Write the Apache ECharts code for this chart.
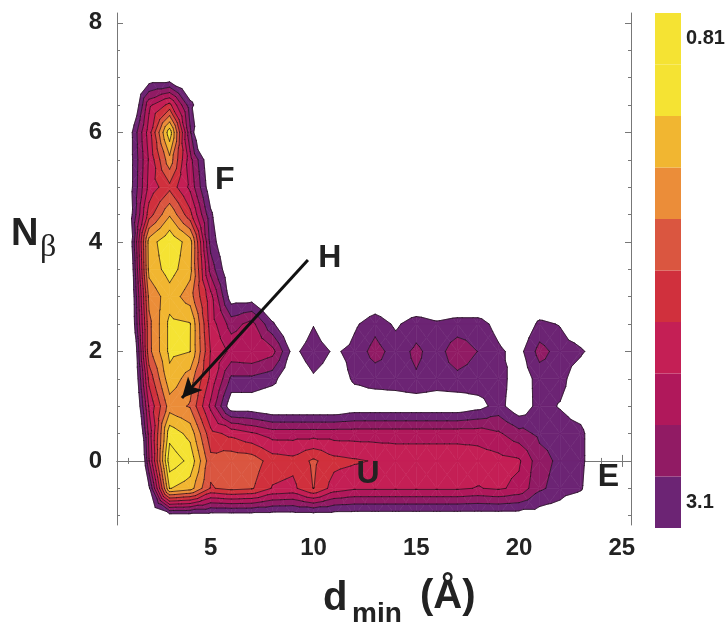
<!DOCTYPE html>
<html><head><meta charset="utf-8">
<script src="https://cdn.jsdelivr.net/npm/echarts@6/dist/echarts.min.js"></script>
<style>html,body{margin:0;padding:0;background:#fff}#c{width:728px;height:627px}</style>
</head><body><div id="c"></div>
<script>
// ---- grid of the surface (x: d_min in Å, y: N_beta) ----
const dminNodes = [1,2,3,4,5,6,7,8,9,10,11,12,13,14,15,16,17,18,19,20,21,22,23,24,25];
const nbetaNodes = [7,6.5,6,5.5,5,4.5,4,3.5,3,2.5,2,1.5,1,0.5,0,-0.5,-1];
// free-energy values, one row per N_beta node (white where > 3.1)
const F_y7    = [3.6,3.3,3.3,3.6,3.6,3.6,3.6,3.6,3.6,3.6,3.6,3.6,3.6,3.6,3.6,3.6,3.6,3.6,3.6,3.6,3.6,3.6,3.6,3.6,3.6];
const F_y6_5  = [3.8,2.4,2.0,3.0,3.6,3.6,3.6,3.6,3.6,3.6,3.6,3.6,3.6,3.6,3.6,3.6,3.6,3.6,3.6,3.6,3.6,3.6,3.6,3.6,3.6];
const F_y6    = [3.3,2.2,0.9,2.8,4.5,3.6,3.6,3.6,3.6,3.6,3.6,3.6,3.6,3.6,3.6,3.6,3.6,3.6,3.6,3.6,3.6,3.6,3.6,3.6,3.6];
const F_y5_5  = [3.3,2.3,1.4,2.5,3.4,3.6,3.6,3.6,3.6,3.6,3.6,3.6,3.6,3.6,3.6,3.6,3.6,3.6,3.6,3.6,3.6,3.6,3.6,3.6,3.6];
const F_y5    = [3.3,2.25,1.9,2.4,3.3,3.6,3.6,3.6,3.6,3.6,3.6,3.6,3.6,3.6,3.6,3.6,3.6,3.6,3.6,3.6,3.6,3.6,3.6,3.6,3.6];
const F_y4_5  = [3.35,1.95,1.35,2.0,3.05,3.6,3.6,3.6,3.6,3.6,3.6,3.6,3.6,3.6,3.6,3.6,3.6,3.6,3.6,3.6,3.6,3.6,3.6,3.6,3.6];
const F_y4    = [3.49,1.2,0.85,1.2,2.95,3.5,3.6,3.6,3.6,3.6,3.6,3.6,3.6,3.6,3.6,3.6,3.6,3.6,3.6,3.6,3.6,3.6,3.6,3.6,3.6];
const F_y3_5  = [3.63,1.235,0.95,1.235,2.7,3.4,3.6,3.6,3.6,3.6,3.6,3.6,3.6,3.6,3.6,3.6,3.6,3.6,3.6,3.6,3.6,3.6,3.6,3.6,3.6];
const F_y3    = [3.69,1.5,1.18,1.45,2.25,3.25,3.25,3.6,3.6,3.5,3.5,3.5,3.4,3.5,3.5,3.5,3.5,3.5,3.5,3.5,3.5,3.5,3.6,3.6,3.6];
const F_y2_5  = [3.7,1.64,1.0,1.05,2.2,2.7,2.5,3.05,3.5,3.12,3.5,3.15,2.93,3.15,2.95,3.05,2.98,2.98,3.2,3.4,3.03,3.12,3.4,3.6,3.6];
const F_y2    = [4.07,1.65,1.0,1.06,2.1,2.4,2.35,2.5,3.2,2.9,3.15,3.0,2.75,2.95,2.8,2.95,2.7,2.85,3.05,3.2,2.75,2.95,3.05,3.3,3.6];
const F_y1_5  = [4.04,2.0,1.15,1.45,2.15,2.9,2.9,3.0,3.4,3.15,3.3,3.05,2.98,2.95,2.87,2.95,2.91,2.95,2.95,3.3,2.99,3.0,3.3,3.6,3.6];
const F_y1    = [4.1,2.3,1.45,1.6,2.4,3.3,3.3,3.4,3.4,3.4,3.4,3.3,3.3,3.3,3.3,3.3,3.3,3.2,3.0,3.3,3.0,3.12,3.3,3.6,3.6];
const F_y0_5  = [4.5,2.5,0.9,1.15,2.0,2.15,2.3,2.45,2.45,2.45,2.45,2.45,2.45,2.45,2.45,2.45,2.45,2.45,2.55,2.75,2.9,2.95,3.0,3.5,3.6];
const F_y0    = [5.1,2.6,0.65,0.88,1.75,1.65,1.68,1.95,2.0,1.78,2.0,2.05,2.1,2.15,2.15,2.15,2.15,2.2,2.25,2.3,2.75,2.9,3.0,3.5,3.6];
const F_ym0_5 = [5.0,3.15,1.05,1.2,1.85,1.75,1.8,2.1,2.15,1.82,2.2,2.3,2.3,2.3,2.3,2.3,2.3,2.35,2.3,2.4,2.8,2.95,3.05,3.6,3.6];
const F_ym1   = [5.0,3.6,3.25,3.25,3.25,3.25,3.25,3.25,3.25,3.25,3.25,3.25,3.25,3.25,3.25,3.25,3.25,3.25,3.25,3.25,3.25,3.3,3.6,3.6,3.6];
const surface = [F_y7,F_y6_5,F_y6,F_y5_5,F_y5,F_y4_5,F_y4,F_y3_5,F_y3,F_y2_5,F_y2,F_y1_5,F_y1,F_y0_5,F_y0,F_ym0_5,F_ym1];

// contour levels and band colours (lowest F first)
const levels = [0.81,1.064,1.319,1.573,1.828,2.082,2.337,2.591,2.846,3.1];
const bandColors = ['#f5e333','#f5e333','#f1b631','#eb8d39','#da5640','#d0303d','#c41f55','#b0185b','#911b64','#6c2474'];
// colour bar (bottom to top) and its labels
const colorbarColors = bandColors.slice().reverse();
const colorbarUnits = [1,1,1,1,1,1,1,1,1,1];
const colorbarLabelPos = [0.5, 9.5];
const colorbarLabels = ['3.1','0.81'];

// axes
const dminTicks = [5,10,15,20,25];
const dminMinor = [1,2,3,4,6,7,8,9,11,12,13,14,16,17,18,19,21,22,23,24];
const nbetaTicks = [0,2,4,6,8];
const nbetaMinor = [-1,-0.5,0.5,1,1.5,2.5,3,3.5,4.5,5,5.5,6.5,7,7.5];

// annotations
const annText = ['F','H','U','E'];
const annX = [5.69,10.8,12.65,24.35];
const annY = [5.12,3.7,-0.25,-0.3];
const arrowFrom = [9.73,3.67];
const arrowTo = [3.6,1.15];

const FONT = '"Liberation Sans", Arial, Helvetica, sans-serif';
const TXT = '#222';

const cells = [];
for (let j = 0; j < nbetaNodes.length - 1; j++)
  for (let i = 0; i < dminNodes.length - 1; i++)
    cells.push([dminNodes[i], nbetaNodes[j], i, j]);

function triangles(i, j, api) {
  const corners = [[i,j],[i+1,j],[i+1,j+1],[i,j+1]].map(([a,b]) => {
    const p = api.coord([dminNodes[a], nbetaNodes[b]]);
    return [p[0], p[1], surface[b][a]];
  });
  const c = [0,1,2].map(k => (corners[0][k]+corners[1][k]+corners[2][k]+corners[3][k])/4);
  return [[corners[0],corners[1],c],[corners[1],corners[2],c],[corners[2],corners[3],c],[corners[3],corners[0],c]];
}
function clip(poly, lev, above) {
  const out = [];
  for (let k = 0; k < poly.length; k++) {
    const P = poly[k], Q = poly[(k+1) % poly.length];
    const pin = above ? P[2] >= lev : P[2] <= lev;
    const qin = above ? Q[2] >= lev : Q[2] <= lev;
    if (pin) out.push(P);
    if (pin !== qin) {
      const t = (lev - P[2]) / (Q[2] - P[2]);
      out.push([P[0]+t*(Q[0]-P[0]), P[1]+t*(Q[1]-P[1]), lev]);
    }
  }
  return out;
}
function renderFill(params, api) {
  const i = api.value(2), j = api.value(3);
  const children = [];
  triangles(i, j, api).forEach(tri => {
    const mn = Math.min(tri[0][2], tri[1][2], tri[2][2]);
    if (mn >= levels[levels.length-1]) return;
    for (let b = 0; b < levels.length; b++) {
      const lo = b === 0 ? -1e9 : levels[b-1];
      const hi = levels[b];
      let poly = clip(tri, lo, true);
      if (poly.length < 3) continue;
      poly = clip(poly, hi, false);
      if (poly.length < 3) continue;
      children.push({type:'polygon', silent:true, shape:{points: poly.map(p => [p[0], p[1]])},
        style:{fill: bandColors[b], stroke: bandColors[b], lineWidth: 0.6}});
    }
  });
  return {type:'group', children};
}
function renderLines(params, api) {
  const i = api.value(2), j = api.value(3);
  const children = [];
  triangles(i, j, api).forEach(tri => {
    levels.forEach(L => {
      const pts = [];
      for (let k = 0; k < 3; k++) {
        const P = tri[k], Q = tri[(k+1)%3];
        if ((P[2]-L)*(Q[2]-L) < 0) {
          const t = (L-P[2])/(Q[2]-P[2]);
          pts.push([P[0]+t*(Q[0]-P[0]), P[1]+t*(Q[1]-P[1])]);
        }
      }
      if (pts.length === 2) children.push({type:'line', silent:true,
        shape:{x1:pts[0][0], y1:pts[0][1], x2:pts[1][0], y2:pts[1][1]},
        style:{stroke:'rgba(25,15,20,0.85)', lineWidth:0.8, lineCap:'round'}});
    });
  });
  return {type:'group', children};
}

const X0 = 0.44, X1 = 25.45, Y0 = -1.17, Y1 = 8.18;
const frameLine = {show:true, lineStyle:{color:'#777', width:1}};
function xAx(pos, ticks, len, line, labels) {
  return {type:'value', gridIndex:0, position:pos, min:X0, max:X1,
    axisLine: line ? frameLine : {show:false},
    axisTick:{show:true, inside:true, length:len, customValues:ticks, lineStyle:{color:'#777', width:1}},
    axisLabel: labels ? {show:true, customValues:ticks, fontSize:24, fontWeight:'bold', fontFamily:FONT, color:TXT, margin:11} : {show:false},
    splitLine:{show:false}};
}
function yAx(pos, ticks, len, line, labels) {
  return {type:'value', gridIndex:0, position:pos, min:Y0, max:Y1,
    axisLine: line ? frameLine : {show:false},
    axisTick:{show:true, inside:true, length:len, customValues:ticks, lineStyle:{color:'#777', width:1}},
    axisLabel: labels ? {show:true, customValues:ticks, fontSize:24, fontWeight:'bold', fontFamily:FONT, color:TXT, margin:15} : {show:false},
    splitLine:{show:false}};
}

const colorbarSeries = colorbarUnits.map((u, k) => ({
  type:'bar', xAxisIndex:4, yAxisIndex:4, stack:'cb', barWidth:'100%', silent:true,
  data:[u], itemStyle:{color: colorbarColors[k]}
}));

const option = {
  animation:false,
  backgroundColor:'#fff',
  grid:[{left:117, top:13, width:514, height:512},{left:655, top:13, width:26, height:515}],
  xAxis:[
    xAx('bottom', dminTicks, 6, true, true),
    xAx('bottom', dminMinor, 3, false, false),
    xAx('top', dminTicks, 6, true, false),
    xAx('top', dminMinor, 3, false, false),
    {type:'category', gridIndex:1, data:['cb'], show:false}
  ],
  yAxis:[
    yAx('left', nbetaTicks, 6, true, true),
    yAx('left', nbetaMinor, 3, false, false),
    yAx('right', nbetaTicks, 6, true, false),
    yAx('right', nbetaMinor, 3, false, false),
    {type:'value', gridIndex:1, min:0, max:10, position:'right',
      axisLine:{show:false}, axisTick:{show:false}, splitLine:{show:false},
      axisLabel:{show:true, customValues:colorbarLabelPos, margin:5,
        formatter: v => colorbarLabels[colorbarLabelPos.indexOf(v)],
        fontSize:20, fontWeight:'bold', fontFamily:FONT, color:TXT}}
  ],
  series:[
    {type:'custom', xAxisIndex:0, yAxisIndex:0, data:cells, renderItem:renderFill, silent:true, z:2},
    {type:'custom', xAxisIndex:0, yAxisIndex:0, data:cells, renderItem:renderLines, silent:true, z:3},
    {type:'scatter', xAxisIndex:0, yAxisIndex:0, symbolSize:0, silent:true, z:5,
      itemStyle:{opacity:1},
      data: annText.map((t,k) => [annX[k], annY[k], t]),
      label:{show:true, position:'inside', formatter: p => p.value[2], fontSize:32, fontWeight:'bold', fontFamily:FONT, color:TXT, opacity:1},
      markLine:{silent:true, symbol:['none','arrow'], symbolSize:[15,20], label:{show:false},
        lineStyle:{color:'#111', width:3, type:'solid', opacity:1},
        data:[[{coord:arrowFrom},{coord:arrowTo}]]}
    },
    ...colorbarSeries
  ],
  graphic:[
    {type:'text', left:11, top:216, style:{text:'N', font:'bold 38px '+FONT, fill:TXT}},
    {type:'text', left:40, top:232, style:{text:'β', font:'32px "Liberation Serif", "DejaVu Serif", serif', fill:TXT}},
    {type:'text', left:323, top:579, style:{text:'d', font:'bold 40px '+FONT, fill:TXT}},
    {type:'text', left:352, top:600, style:{text:'min', font:'bold 28px '+FONT, fill:TXT}},
    {type:'text', left:420, top:577, style:{text:'(Å)', font:'bold 40px '+FONT, fill:TXT}}
  ]
};
const chart = echarts.init(document.getElementById('c'));
chart.setOption(option);
</script></body></html>
